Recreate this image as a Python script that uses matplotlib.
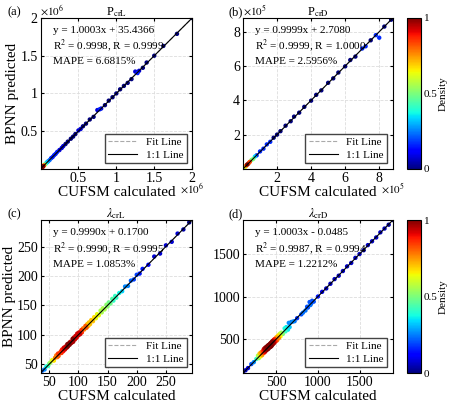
import numpy as np
import matplotlib
matplotlib.use("Agg")
import matplotlib.pyplot as plt

plt.rcParams['font.family'] = ['Liberation Serif', 'DejaVu Serif']
plt.rcParams['mathtext.fontset'] = 'stix'

# Panel (a) P_crL (x1e6)
xa = [0.005,0.008,0.01,0.012,0.015,0.018,0.02,0.022,0.025,0.03,0.035,0.04,0.045,0.05,0.06,0.07,0.08,0.09,0.1,0.12,0.14,0.16,0.18,0.2,0.22,0.25,0.28,0.3,0.33,0.36,0.4,0.43,0.46,0.5,0.53,0.56,0.6,0.65,0.7,0.75,0.78,0.8,0.85,0.9,0.95,1.0,1.05,1.1,1.15,1.2,1.25,1.28,1.3,1.35,1.4,1.5,1.62,1.8,2.0]
ya = [0.006,0.007,0.011,0.013,0.014,0.019,0.021,0.023,0.024,0.031,0.034,0.041,0.046,0.049,0.062,0.069,0.081,0.092,0.1,0.118,0.142,0.158,0.182,0.2,0.225,0.25,0.278,0.302,0.33,0.362,0.4,0.428,0.462,0.51,0.53,0.565,0.6,0.655,0.69,0.78,0.79,0.8,0.845,0.905,0.95,1.0,1.055,1.1,1.14,1.19,1.29,1.27,1.3,1.34,1.41,1.5,1.63,1.79,2.0]
# Panel (b) P_crD (x1e5)
xb = [0.1,0.15,0.2,0.25,0.3,0.35,0.4,0.5,0.6,0.7,0.8,1.0,1.2,1.4,1.6,1.8,2.0,2.2,2.5,2.8,3.0,3.3,3.6,4.0,4.3,4.6,5.0,5.3,5.6,6.0,6.3,6.6,7.0,7.2,7.5,7.8,8.0,8.3,8.7]
yb = [0.11,0.14,0.21,0.26,0.29,0.36,0.41,0.52,0.58,0.72,0.79,1.02,1.18,1.43,1.58,1.82,2.0,2.2,2.52,2.78,3.05,3.28,3.62,3.98,4.32,4.58,5.02,5.28,5.62,5.98,6.35,6.55,7.02,7.15,7.5,7.8,7.65,8.3,8.7]
# Panel (c) lambda_crL
xc = [38,42,45,48,50,52,55,58,60,62,64,65,66,68,70,71,72,74,75,77,78,80,81,82,84,85,86,88,90,91,92,94,95,97,98,100,101,103,105,106,108,110,112,114,115,117,118,120,122,125,127,130,132,135,138,140,142,145,148,150,152,155,158,160,163,165,170,175,180,185,190,195,200,205,210,220,230,240,250,260,270,280,290]
yc = [39,41,46,47,51,53,57,56,61,65,62,68,64,69,72,69,75,72,78,75,80,78,84,80,86,83,88,86,93,88,95,92,98,95,102,99,104,101,108,104,111,109,115,112,118,115,121,118,125,123,130,128,135,133,141,138,145,143,151,148,155,153,161,158,166,163,171,174,182,183,192,194,202,204,212,219,233,238,252,258,272,279,291]
# Panel (d) lambda_crD
xd = [100,130,160,200,230,260,280,290,300,310,320,330,340,345,350,355,360,365,370,375,380,385,390,395,400,405,410,415,420,425,430,435,440,445,450,455,460,465,470,475,480,490,500,510,520,530,540,550,560,580,600,610,620,640,650,660,680,700,720,750,800,820,850,870,880,900,910,920,930,950,1000,1050,1100,1150,1200,1250,1300,1350,1400,1450,1500,1550,1600,1650,1700,1750,1800,1850,1900]
yd = [100,132,158,205,228,265,305,275,330,295,345,310,360,335,380,340,390,350,400,365,405,370,415,380,425,385,430,400,440,405,450,410,460,420,470,435,480,445,490,455,500,470,520,485,540,510,560,530,575,560,625,590,640,610,690,640,700,705,710,745,790,810,835,880,870,935,900,920,950,940,1000,1055,1095,1150,1205,1245,1300,1355,1395,1455,1500,1545,1605,1650,1695,1755,1800,1845,1900]

panels = [
    dict(x=xa, y=ya, lim=(0, 2.0), ticks=[0.5,1,1.5,2], tl=['0.5','1','1.5','2'], mult=r'$\times10^6$', rad=0.02,
         title=r'P$_{\rm crL}$', lab='(a)', eq=['y = 1.0003x + 35.4366', r'R$^2$ = 0.9998, R = 0.9999', 'MAPE = 6.6815%']),
    dict(x=xb, y=yb, lim=(0, 8.8), ticks=[2,4,6,8], tl=['2','4','6','8'], mult=r'$\times10^5$', rad=0.03,
         title=r'P$_{\rm crD}$', lab='(b)', eq=['y = 0.9999x + 2.7080', r'R$^2$ = 0.9999, R = 1.0000', 'MAPE = 2.5956%']),
    dict(x=xc, y=yc, lim=(35, 295), ticks=[50,100,150,200,250], tl=None, mult=None, rad=0.12,
         title=r'$\lambda_{\rm crL}$', lab='(c)', eq=['y = 0.9990x + 0.1700', r'R$^2$ = 0.9990, R = 0.9995', 'MAPE = 1.0853%']),
    dict(x=xd, y=yd, lim=(100, 1900), ticks=[500,1000,1500], tl=None, mult=None, rad=0.09,
         title=r'$\lambda_{\rm crD}$', lab='(d)', eq=['y = 1.0003x - 0.0485', r'R$^2$ = 0.9987, R = 0.9994', 'MAPE = 1.2212%']),
]
pos = [[0.09,0.587,0.337,0.369],[0.54,0.587,0.333,0.369],[0.09,0.088,0.337,0.374],[0.54,0.088,0.333,0.374]]

fig = plt.figure(figsize=(4.5,4.09), dpi=100)
for i,(p,ps) in enumerate(zip(panels,pos)):
    ax = fig.add_axes(ps)
    x = np.array(p['x']); y = np.array(p['y'])
    lo, hi = p['lim']; r = (hi-lo)*p['rad']
    d = np.array([np.sum(np.hypot(x-xi, y-yi) < r) for xi,yi in zip(x,y)], float)
    d = (d-d.min())/(d.max()-d.min())
    o = np.argsort(d)
    ax.plot([lo,hi],[lo,hi],'k-',lw=0.8,zorder=3,label='1:1 Line')
    ax.plot([lo,hi],[lo,hi],'--',color='#aaaaaa',lw=0.8,zorder=1,label='Fit Line')
    ax.scatter(x[o],y[o],c=d[o],cmap='jet',vmin=0,vmax=1,s=10,zorder=2,linewidths=0)
    ax.set_xlim(lo,hi); ax.set_ylim(lo,hi)
    ax.set_xticks(p['ticks']); ax.set_yticks(p['ticks'])
    if p['tl']:
        ax.set_xticklabels(p['tl']); ax.set_yticklabels(p['tl'])
        ax.text(1.0,-0.085,p['mult'],transform=ax.transAxes,fontsize=8,va='top',ha='center')
        ax.text(0.0,1.0,p['mult'],transform=ax.transAxes,fontsize=8,va='bottom',ha='left')
    ax.tick_params(labelsize=10,direction='in',length=2,top=True,right=True,pad=2)
    ax.grid(True,ls='--',color='#dddddd',lw=0.6)
    ax.set_title(p['title'],fontsize=9,pad=2)
    ax.set_xlabel('CUFSM calculated',fontsize=11,labelpad=1)
    if i%2==0: ax.set_ylabel('BPNN predicted',fontsize=11,labelpad=1)
    ax.text(-0.22 if i%2==0 else -0.1,1.04,p['lab'],transform=ax.transAxes,fontsize=9,va='center')
    for k,t in enumerate(p['eq']):
        ax.text(0.08,0.92-k*0.105,t,transform=ax.transAxes,fontsize=8,va='center')
    h,l = ax.get_legend_handles_labels()
    ax.legend([h[1],h[0]],[l[1],l[0]],loc='lower right',fontsize=8,fancybox=False,edgecolor='#444444',framealpha=1,handlelength=2.6,borderpad=0.3,labelspacing=0.3)
    if i%2==1:
        cax = fig.add_axes([0.905,ps[1],0.031,ps[3]])
        sm = plt.cm.ScalarMappable(cmap='jet',norm=plt.Normalize(0,1))
        cb = fig.colorbar(sm,cax=cax,ticks=[0,0.5,1])
        cb.ax.set_yticklabels(['0','0.5','1'])
        cb.ax.tick_params(labelsize=8,length=0,pad=2)
        cb.set_label('Density',fontsize=8,labelpad=1)
fig.savefig('out.png',dpi=100)
